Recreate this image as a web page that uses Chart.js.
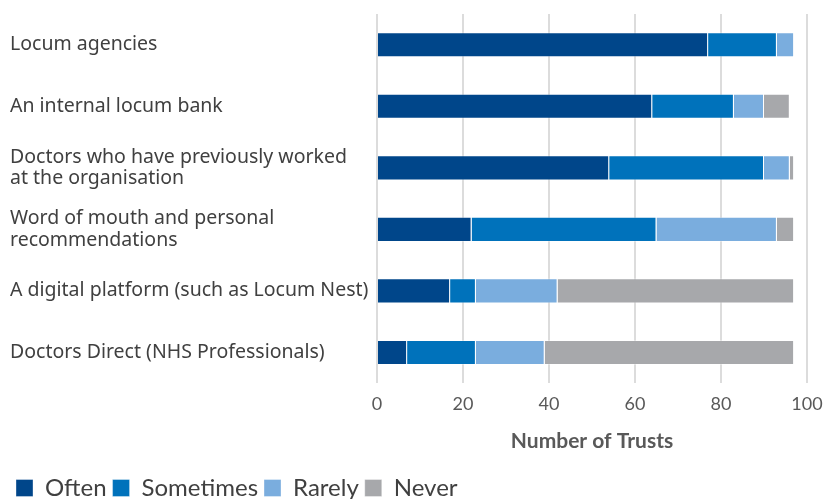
<!DOCTYPE html>
<html><head><meta charset="utf-8">
<script src="https://cdn.jsdelivr.net/npm/chart.js@4/dist/chart.umd.min.js"></script>
<style>html,body{margin:0;padding:0;background:#fff}#wrap{width:825px;height:499px;position:relative}</style>
</head><body><div id="wrap"><canvas id="c" width="825" height="499"></canvas></div>
<script>
const categories = [
  "Locum agencies",
  "An internal locum bank",
  ["Doctors who have previously worked", "at the organisation"],
  ["Word of mouth and personal", "recommendations"],
  "A digital platform (such as Locum Nest)",
  "Doctors Direct (NHS Professionals)"
];
const often = [77, 64, 54, 22, 17, 7];
const sometimes = [16, 19, 36, 43, 6, 16];
const rarely = [4, 7, 6, 28, 19, 16];
const never = [0, 6, 1, 4, 55, 58];
const xTicks = [0, 20, 40, 60, 80, 100];

const mk = (label, data, color) => ({label, data, backgroundColor: color, borderColor: 'rgba(255,255,255,0.35)', borderWidth: 1,
  categoryPercentage: 0.8, barPercentage: 0.51});
const narrow = "Lato, 'Liberation Sans', sans-serif";

new Chart(document.getElementById('c'), {
  type: 'bar',
  data: {labels: categories, datasets: [
    mk('Often', often, '#00468A'),
    mk('Sometimes', sometimes, '#0072BB'),
    mk('Rarely', rarely, '#7AADDE'),
    mk('Never', never, '#A7A8AB')
  ]},
  options: {
    indexAxis: 'y', responsive: false, animation: false,
    layout: {padding: {left: 10, right: 0, top: 14, bottom: -11}},
    plugins: {
      tooltip: {enabled: false},
      legend: {position: 'bottom', align: 'start',
        labels: {boxWidth: 17, boxHeight: 17, padding: 6, color: '#404040',
          font: {family: narrow, size: 24}}}
    },
    scales: {
      x: {stacked: true, min: 0, max: 100,
        afterBuildTicks: s => { s.ticks = xTicks.map(v => ({value: v})); },
        afterFit: s => { s.paddingRight = 18; },
        grid: {color: '#dcdcdc', lineWidth: 2, drawTicks: false},
        border: {display: false},
        ticks: {padding: 10, color: '#595959', font: {family: narrow, size: 18}},
        title: {display: true, text: 'Number of Trusts', color: '#595959', padding: {top: 4, bottom: 16},
          font: {family: narrow, size: 21, weight: 'bold'}}
      },
      y: {stacked: true,
        afterFit: s => { s.width = 367; },
        grid: {display: false}, border: {display: false},
        ticks: {crossAlign: 'far', color: '#404040', padding: 0,
          font: {family: "'Noto Sans', sans-serif", size: 19.5, lineHeight: 1.1}}
      }
    }
  }
});
</script></body></html>
